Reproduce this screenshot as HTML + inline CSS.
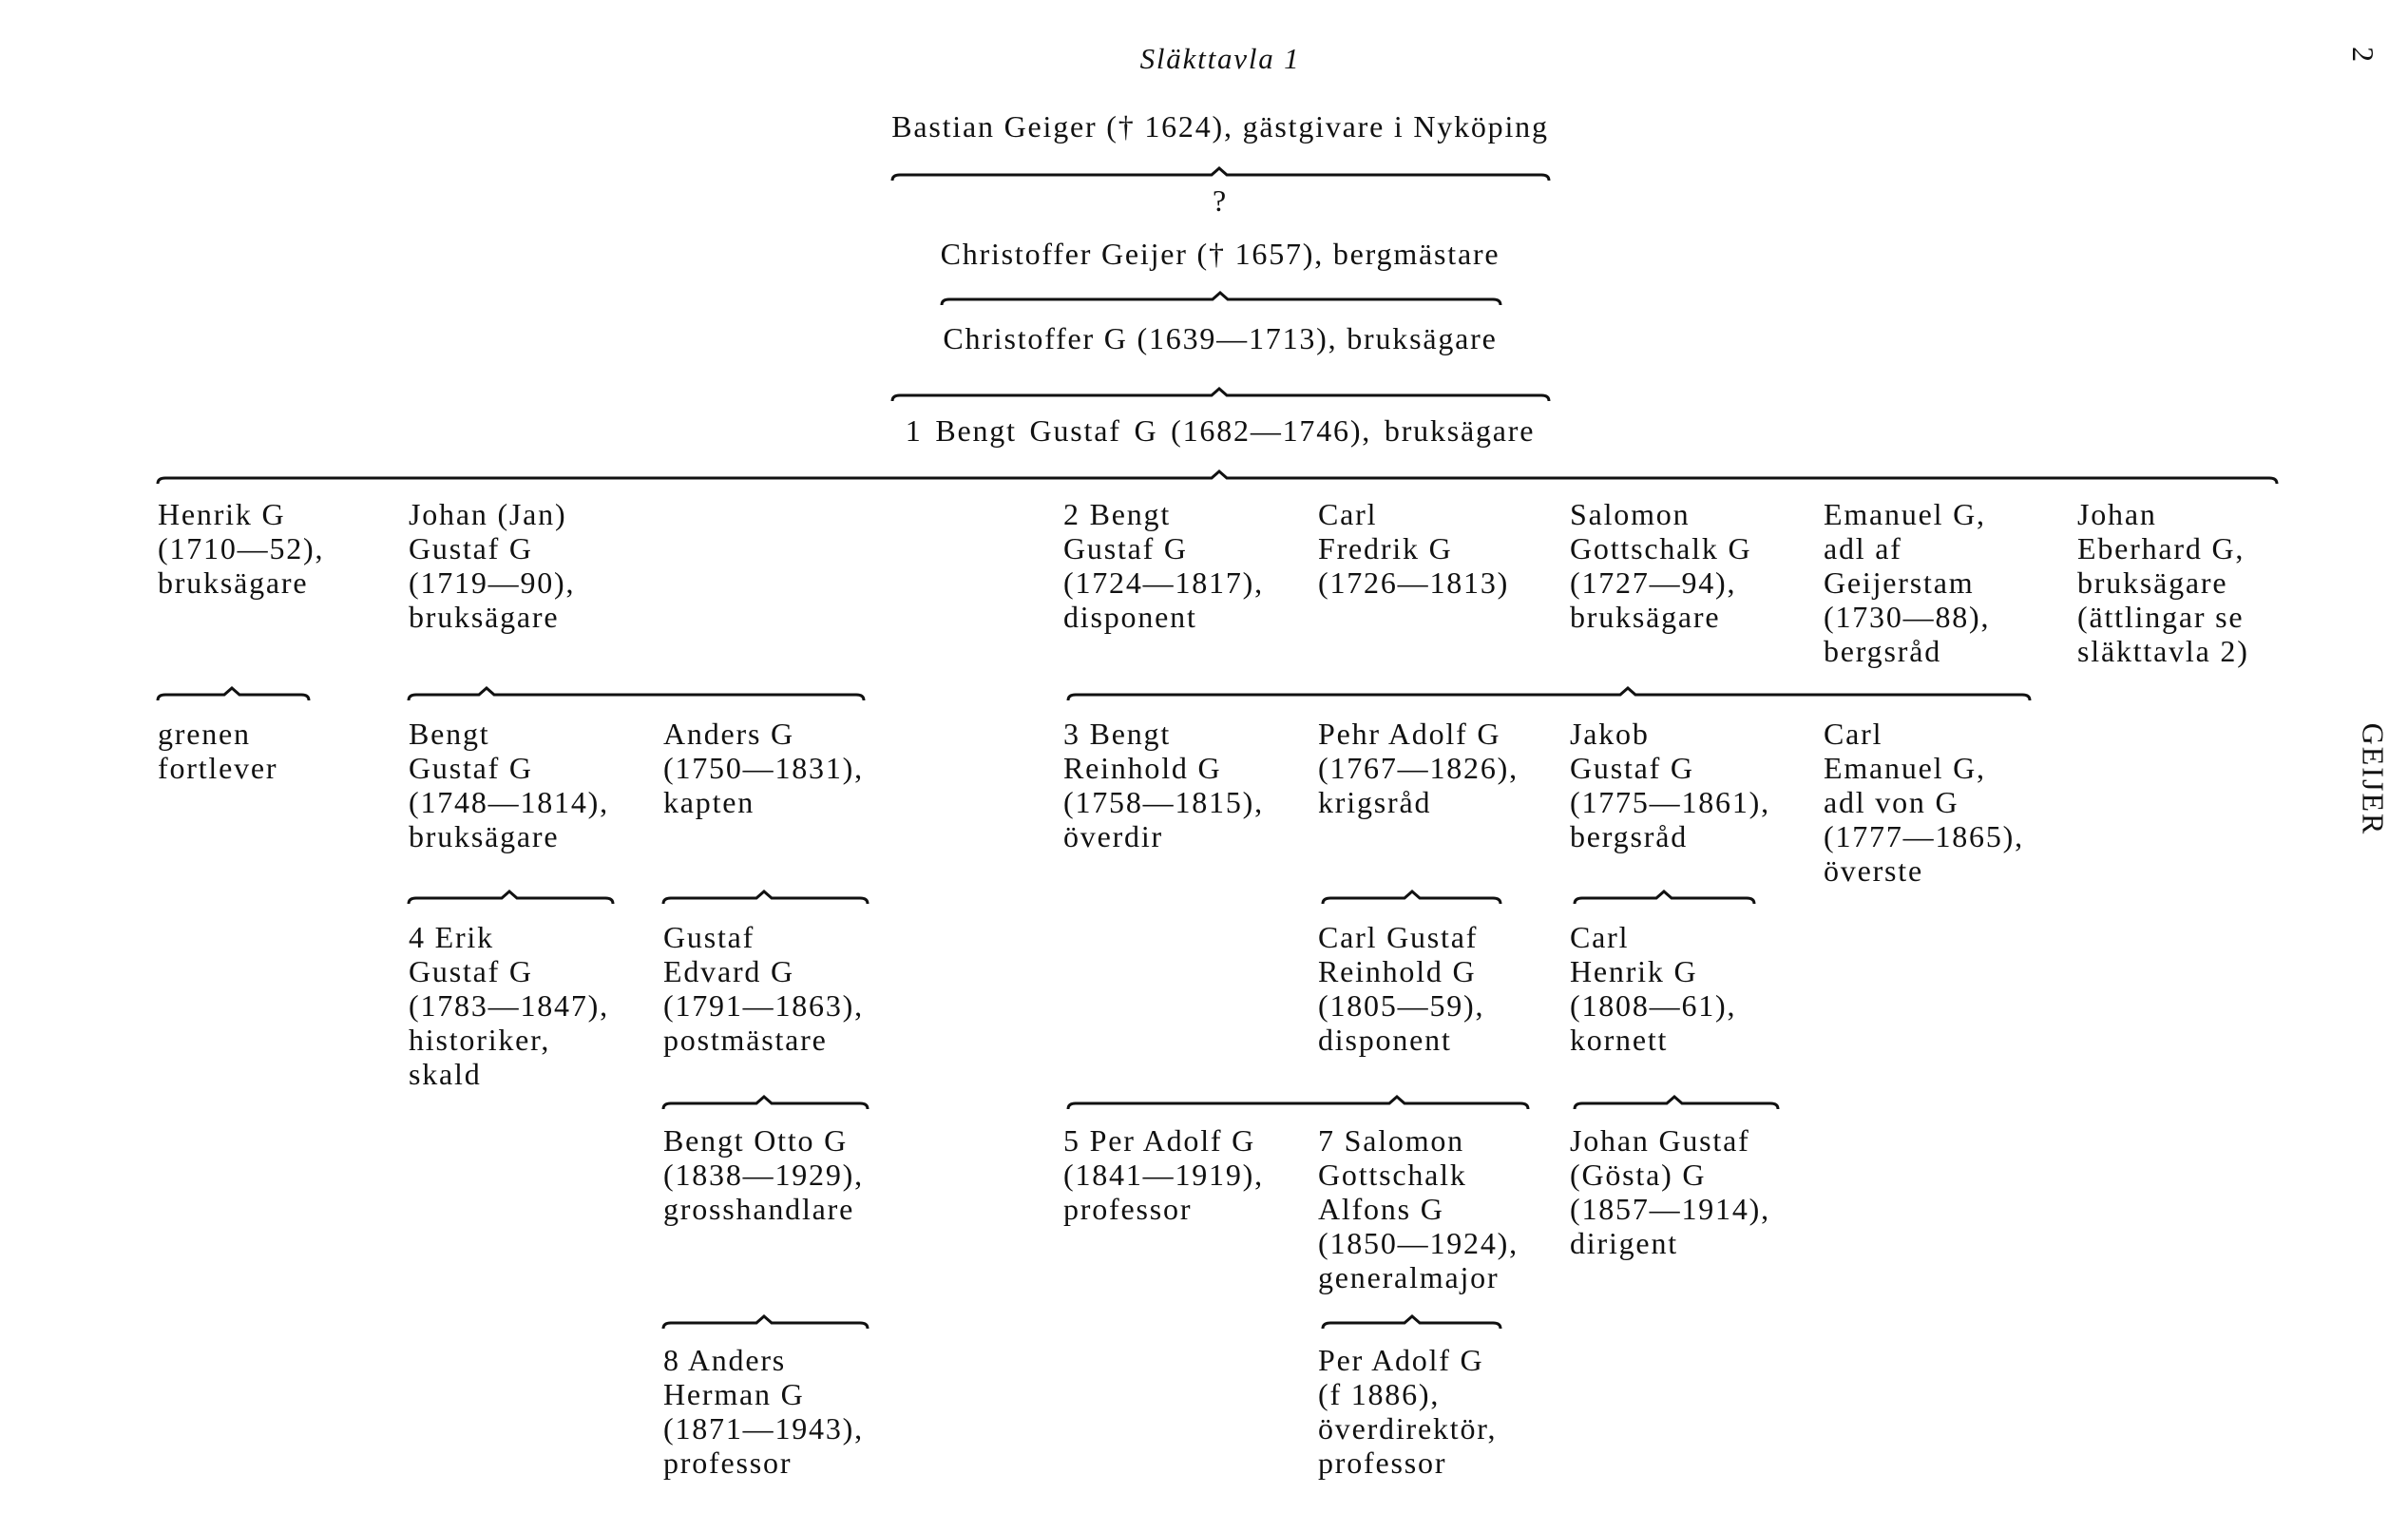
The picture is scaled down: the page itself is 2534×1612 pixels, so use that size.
<!DOCTYPE html>
<html><head><meta charset="utf-8"><style>
body{margin:0;width:2534px;height:1612px;background:#fff;position:relative;overflow:hidden;font-family:"Liberation Serif",serif;color:#111}
.t{position:absolute;font-size:32px;line-height:36px;white-space:nowrap;letter-spacing:1.8px}
.c{position:absolute;left:0;width:2568px;text-align:center;font-size:32px;line-height:36px;letter-spacing:1.8px}
svg{position:absolute;left:0;top:0}
</style></head><body>
<div class="c" style="top:44px;font-style:italic;font-size:31px">Släkttavla 1</div>
<div class="c" style="top:115px">Bastian Geiger († 1624), gästgivare i Nyköping</div>
<div class="c" style="top:193px">?</div>
<div class="c" style="top:249px">Christoffer Geijer († 1657), bergmästare</div>
<div class="c" style="top:338px">Christoffer G (1639—1713), bruksägare</div>
<div class="c" style="top:435px;word-spacing:4px">1 Bengt Gustaf G (1682—1746), bruksägare</div>
<div class="t" style="left:2478px;top:40px;transform:rotate(90deg)">2</div>
<div class="t" style="left:2438px;top:802px;transform:rotate(90deg);letter-spacing:2px">GEIJER</div>

<div class="t" style="left:166px;top:523px">Henrik G<br>(1710—52),<br>bruksägare</div>
<div class="t" style="left:430px;top:523px">Johan (Jan)<br>Gustaf G<br>(1719—90),<br>bruksägare</div>
<div class="t" style="left:1119px;top:523px">2 Bengt<br>Gustaf G<br>(1724—1817),<br>disponent</div>
<div class="t" style="left:1387px;top:523px">Carl<br>Fredrik G<br>(1726—1813)</div>
<div class="t" style="left:1652px;top:523px">Salomon<br>Gottschalk G<br>(1727—94),<br>bruksägare</div>
<div class="t" style="left:1919px;top:523px">Emanuel G,<br>adl af<br>Geijerstam<br>(1730—88),<br>bergsråd</div>
<div class="t" style="left:2186px;top:523px">Johan<br>Eberhard G,<br>bruksägare<br>(ättlingar se<br>släkttavla 2)</div>

<div class="t" style="left:166px;top:754px">grenen<br>fortlever</div>
<div class="t" style="left:430px;top:754px">Bengt<br>Gustaf G<br>(1748—1814),<br>bruksägare</div>
<div class="t" style="left:698px;top:754px">Anders G<br>(1750—1831),<br>kapten</div>
<div class="t" style="left:1119px;top:754px">3 Bengt<br>Reinhold G<br>(1758—1815),<br>överdir</div>
<div class="t" style="left:1387px;top:754px">Pehr Adolf G<br>(1767—1826),<br>krigsråd</div>
<div class="t" style="left:1652px;top:754px">Jakob<br>Gustaf G<br>(1775—1861),<br>bergsråd</div>
<div class="t" style="left:1919px;top:754px">Carl<br>Emanuel G,<br>adl von G<br>(1777—1865),<br>överste</div>

<div class="t" style="left:430px;top:968px">4 Erik<br>Gustaf G<br>(1783—1847),<br>historiker,<br>skald</div>
<div class="t" style="left:698px;top:968px">Gustaf<br>Edvard G<br>(1791—1863),<br>postmästare</div>
<div class="t" style="left:1387px;top:968px">Carl Gustaf<br>Reinhold G<br>(1805—59),<br>disponent</div>
<div class="t" style="left:1652px;top:968px">Carl<br>Henrik G<br>(1808—61),<br>kornett</div>

<div class="t" style="left:698px;top:1182px">Bengt Otto G<br>(1838—1929),<br>grosshandlare</div>
<div class="t" style="left:1119px;top:1182px">5 Per Adolf G<br>(1841—1919),<br>professor</div>
<div class="t" style="left:1387px;top:1182px">7 Salomon<br>Gottschalk<br>Alfons G<br>(1850—1924),<br>generalmajor</div>
<div class="t" style="left:1652px;top:1182px">Johan Gustaf<br>(Gösta) G<br>(1857—1914),<br>dirigent</div>

<div class="t" style="left:698px;top:1413px">8 Anders<br>Herman G<br>(1871—1943),<br>professor</div>
<div class="t" style="left:1387px;top:1413px">Per Adolf G<br>(f 1886),<br>överdirektör,<br>professor</div>

<svg width="2534" height="1612" fill="none" stroke="#111" stroke-width="3">
<path d="M939,190 Q939,184 947,184 L1275,184 L1283,177 L1291,184 L1622,184 Q1630,184 1630,190"/>
<path d="M991,321 Q991,315 999,315 L1276,315 L1284,308 L1292,315 L1571,315 Q1579,315 1579,321"/>
<path d="M939,422 Q939,416 947,416 L1275,416 L1283,409 L1291,416 L1622,416 Q1630,416 1630,422"/>
<path d="M166,509 Q166,503 174,503 L1275,503 L1283,496 L1291,503 L2388,503 Q2396,503 2396,509"/>
<path d="M166,737 Q166,731 174,731 L236,731 L244,724 L252,731 L317,731 Q325,731 325,737"/>
<path d="M430,737 Q430,731 438,731 L504,731 L512,724 L520,731 L901,731 Q909,731 909,737"/>
<path d="M1124,737 Q1124,731 1132,731 L1705,731 L1713,724 L1721,731 L2128,731 Q2136,731 2136,737"/>
<path d="M430,951 Q430,945 438,945 L528,945 L536,938 L544,945 L637,945 Q645,945 645,951"/>
<path d="M698,951 Q698,945 706,945 L796,945 L804,938 L812,945 L905,945 Q913,945 913,951"/>
<path d="M1392,951 Q1392,945 1400,945 L1478,945 L1486,938 L1494,945 L1571,945 Q1579,945 1579,951"/>
<path d="M1657,951 Q1657,945 1665,945 L1743,945 L1751,938 L1759,945 L1838,945 Q1846,945 1846,951"/>
<path d="M698,1167 Q698,1161 706,1161 L796,1161 L804,1154 L812,1161 L905,1161 Q913,1161 913,1167"/>
<path d="M1124,1167 Q1124,1161 1132,1161 L1462,1161 L1470,1154 L1478,1161 L1600,1161 Q1608,1161 1608,1167"/>
<path d="M1657,1167 Q1657,1161 1665,1161 L1754,1161 L1762,1154 L1770,1161 L1863,1161 Q1871,1161 1871,1167"/>
<path d="M698,1398 Q698,1392 706,1392 L796,1392 L804,1385 L812,1392 L905,1392 Q913,1392 913,1398"/>
<path d="M1392,1398 Q1392,1392 1400,1392 L1478,1392 L1486,1385 L1494,1392 L1571,1392 Q1579,1392 1579,1398"/>
</svg>
</body></html>
